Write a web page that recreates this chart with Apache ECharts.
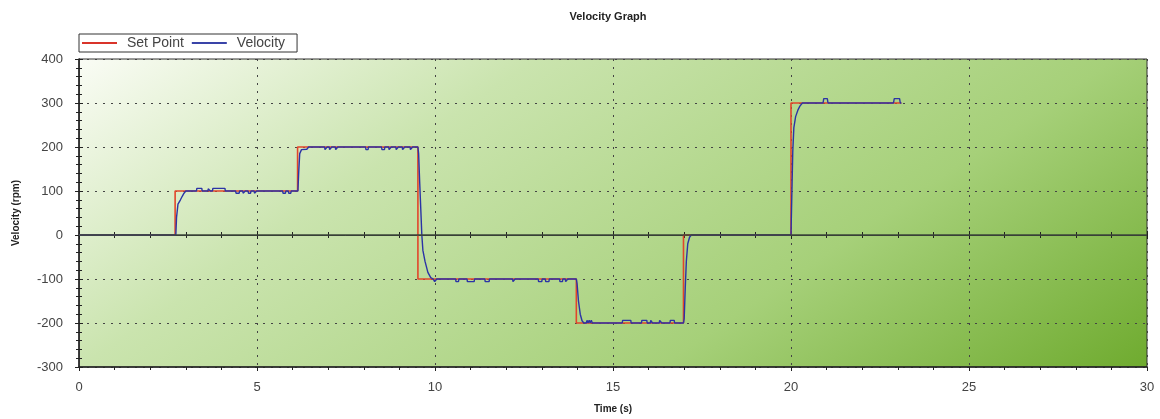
<!DOCTYPE html>
<html>
<head>
<meta charset="utf-8">
<script src="https://cdn.jsdelivr.net/npm/echarts@6/dist/echarts.min.js"></script>
<style>html,body{margin:0;padding:0;background:#fff}#c{width:1160px;height:419px}</style>
</head>
<body>
<div id="c"></div>
<script>
// ---- data ----
var setTime  = [0, 2.7, 2.7, 6.14, 6.14, 9.52, 9.52, 13.97, 13.97, 16.98, 16.98, 20.0, 20.0, 23.1];
var setValue = [0, 0, 100, 100, 200, 200, -100, -100, -200, -200, 0, 0, 300, 300];

var velTime = [0, 2.72, 2.74, 2.78, 2.85, 2.9, 2.95, 3.0,
  3.3, 3.31, 3.45, 3.46, 3.62, 3.63, 3.68, 3.69, 3.75, 3.76, 4.1, 4.11,
  4.4, 4.41, 4.5, 4.51, 4.6, 4.61, 4.66, 4.67, 4.75, 4.76, 4.82, 4.83, 4.92, 4.93, 4.98, 4.99, 5.1, 5.11, 5.15, 5.16,
  5.72, 5.73, 5.8, 5.81, 5.88, 5.89, 5.95, 5.96, 6.15,
  6.17, 6.2, 6.25, 6.4, 6.45,
  6.9, 6.91, 6.96, 6.97, 7.03, 7.04, 7.09, 7.1, 7.2, 7.21, 7.26, 7.27,
  8.05, 8.06, 8.12, 8.13, 8.5, 8.51, 8.58, 8.59, 8.7, 8.71, 8.76, 8.77, 8.9, 8.91, 8.96, 8.97, 9.08, 9.09, 9.14, 9.15, 9.3, 9.31, 9.36, 9.37, 9.52,
  9.54, 9.57, 9.6, 9.63, 9.66, 9.72, 9.8, 9.88, 9.95,
  9.98, 9.99, 10.04, 10.05, 10.58, 10.59, 10.66, 10.67, 10.9, 10.91, 11.1, 11.11, 11.4, 11.41, 11.52, 11.53,
  12.18, 12.19, 12.24, 12.25, 12.9, 12.91, 13.0, 13.01, 13.1, 13.11, 13.2, 13.21, 13.5, 13.51, 13.58, 13.59, 13.66, 13.67, 13.72, 13.73, 13.97,
  13.99, 14.03, 14.08, 14.13, 14.18,
  14.25, 14.27, 14.3, 14.33, 14.36, 14.39, 14.42, 14.45,
  15.26, 15.27, 15.5, 15.51, 15.8, 15.81, 15.95, 15.96, 16.05, 16.06, 16.1, 16.11, 16.3, 16.31, 16.36, 16.37, 16.6, 16.61, 16.72, 16.73, 16.98,
  17.0, 17.03, 17.06, 17.1, 17.15, 17.2,
  20.0, 20.01, 20.03, 20.05, 20.08, 20.13, 20.2, 20.25, 20.32,
  20.9, 20.92, 21.02, 21.04, 22.88, 22.9, 23.05, 23.07, 23.1];
var velValue = [0, 0, 40, 70, 80, 88, 95, 100,
  100, 106, 106, 100, 100, 105, 105, 100, 100, 106, 106, 100,
  100, 95, 95, 100, 100, 95, 95, 100, 100, 95, 95, 100, 100, 95, 95, 100, 100, 96, 96, 100,
  100, 95, 95, 100, 100, 95, 95, 100, 100,
  140, 185, 194, 195, 200,
  200, 194, 194, 200, 200, 194, 194, 200, 200, 194, 194, 200,
  200, 194, 194, 200, 200, 194, 194, 200, 200, 194, 194, 200, 200, 194, 194, 200, 200, 194, 194, 200, 200, 194, 194, 200, 200,
  185, 120, 60, 0, -35, -60, -85, -97, -100,
  -100, -106, -106, -100, -100, -106, -106, -100, -100, -106, -106, -100, -100, -106, -106, -100,
  -100, -106, -106, -100, -100, -106, -106, -100, -100, -106, -106, -100, -100, -106, -106, -100, -100, -106, -106, -100, -100,
  -110, -150, -180, -195, -200,
  -200, -194, -200, -194, -200, -194, -200, -200,
  -200, -194, -194, -200, -200, -194, -194, -200, -200, -194, -194, -200, -200, -194, -194, -200, -200, -194, -194, -200, -200,
  -190, -120, -60, -20, -5, 0,
  0, 40, 115, 190, 244, 269, 285, 293, 300,
  300, 310, 310, 300, 300, 310, 310, 300, 300];

var xTicks = [0, 5, 10, 15, 20, 25, 30];
var yTicks = [-300, -200, -100, 0, 100, 200, 300, 400];

function zip(a, b) { return a.map(function (v, i) { return [v, b[i]]; }); }

var chart = echarts.init(document.getElementById('c'), null, { renderer: 'canvas' });
var FONT = '"Liberation Sans", Arial, sans-serif';
var gridBg = new echarts.graphic.LinearGradient(79, 59, 557, 766, [
  { offset: 0, color: '#fafcf5' },
  { offset: 0.3, color: '#cae4ae' },
  { offset: 0.68, color: '#a6d079' },
  { offset: 1, color: '#6fab2f' }
], true);

var baseX = {
  type: 'value', min: xTicks[0], max: xTicks[xTicks.length - 1], interval: 5, gridIndex: 0
};
var baseY = {
  type: 'value', min: yTicks[0], max: yTicks[yTicks.length - 1], interval: 100, gridIndex: 0
};

chart.setOption({
  animation: false,
  backgroundColor: '#ffffff',
  title: {
    text: 'Velocity Graph', left: 603, top: 6, textAlign: 'center',
    textStyle: { fontFamily: FONT, fontSize: 11, fontWeight: 'bold', color: '#222' }
  },
  legend: {
    left: 79, top: 34, padding: [2, 12, 2, 3], itemGap: 8,
    borderColor: '#333', borderWidth: 1,
    itemWidth: 35, itemHeight: 2, icon: 'rect',
    textStyle: { fontFamily: FONT, fontSize: 14, color: '#444', padding: [0, 0, 0, 5] },
    data: ['Set Point', 'Velocity']
  },
  grid: {
    left: 79, right: 13, top: 59, bottom: 51,
    show: true, backgroundColor: gridBg, borderColor: '#333', borderWidth: 1
  },
  xAxis: [
    Object.assign({}, baseX, {
      name: 'Time (s)', nameLocation: 'middle', nameGap: 37,
      nameTextStyle: { fontFamily: FONT, fontSize: 10, fontWeight: 'bold', color: '#222' },
      axisLine: { onZero: false, lineStyle: { color: '#222', width: 1.5 } },
      axisTick: { show: true, inside: false, length: 4, lineStyle: { color: '#222' } },
      minorTick: { show: true, splitNumber: 5, length: 3, lineStyle: { color: '#222' } },
      axisLabel: { fontFamily: FONT, fontSize: 13, color: '#444', margin: 14 },
      splitLine: { show: true, lineStyle: { color: '#444', type: [2, 6], width: 1 } }
    }),
    Object.assign({}, baseX, {
      position: 'bottom',
      axisLine: { show: false },
      axisTick: { show: true, inside: true, length: 4, lineStyle: { color: '#222' } },
      minorTick: { show: true, splitNumber: 5, length: 3, lineStyle: { color: '#222' } },
      axisLabel: { show: false }, splitLine: { show: false }
    }),
    Object.assign({}, baseX, {
      position: 'top',
      axisLine: { show: true, lineStyle: { color: '#333', width: 1 } },
      axisTick: { show: true, inside: true, length: 4, lineStyle: { color: '#222' } },
      minorTick: { show: true, splitNumber: 5, length: 3, lineStyle: { color: '#222' } },
      axisLabel: { show: false }, splitLine: { show: false }
    })
  ],
  yAxis: [
    Object.assign({}, baseY, {
      name: 'Velocity (rpm)', nameLocation: 'middle', nameGap: 58,
      nameTextStyle: { fontFamily: FONT, fontSize: 10, fontWeight: 'bold', color: '#222' },
      axisLine: { onZero: false, lineStyle: { color: '#222', width: 1.5 } },
      axisTick: { show: true, inside: false, length: 4, lineStyle: { color: '#222' } },
      minorTick: { show: true, splitNumber: 5, length: 3, lineStyle: { color: '#222' } },
      axisLabel: { fontFamily: FONT, fontSize: 13, color: '#444', margin: 16 },
      splitLine: { show: true, lineStyle: { color: '#444', type: [2, 6], width: 1 } }
    }),
    Object.assign({}, baseY, {
      position: 'left',
      axisLine: { show: false },
      axisTick: { show: true, inside: true, length: 4, lineStyle: { color: '#222' } },
      minorTick: { show: true, splitNumber: 5, length: 3, lineStyle: { color: '#222' } },
      axisLabel: { show: false }, splitLine: { show: false }
    }),
    Object.assign({}, baseY, {
      position: 'right',
      axisLine: { show: true, lineStyle: { color: '#333', width: 1 } },
      axisTick: { show: true, inside: true, length: 4, lineStyle: { color: '#222' } },
      minorTick: { show: true, splitNumber: 5, length: 3, lineStyle: { color: '#222' } },
      axisLabel: { show: false }, splitLine: { show: false }
    })
  ],
  series: [
    {
      name: 'Set Point', type: 'line', xAxisIndex: 0, yAxisIndex: 0,
      data: zip(setTime, setValue), showSymbol: false, symbol: 'none',
      lineStyle: { color: '#e2452b', width: 1.6 }, itemStyle: { color: '#d9342a' },
      markLine: {
        silent: true, symbol: 'none', label: { show: false },
        lineStyle: { color: '#3b463a', width: 1.5, type: 'solid' },
        data: [{ yAxis: 0 }]
      },
      z: 3
    },
    {
      name: 'Velocity', type: 'line', xAxisIndex: 0, yAxisIndex: 0,
      data: zip(velTime, velValue), showSymbol: false, symbol: 'none',
      lineStyle: { color: '#2b33a6', width: 1.4 }, itemStyle: { color: '#3a44a8' },
      z: 4
    }
  ]
});
</script>
</body>
</html>
